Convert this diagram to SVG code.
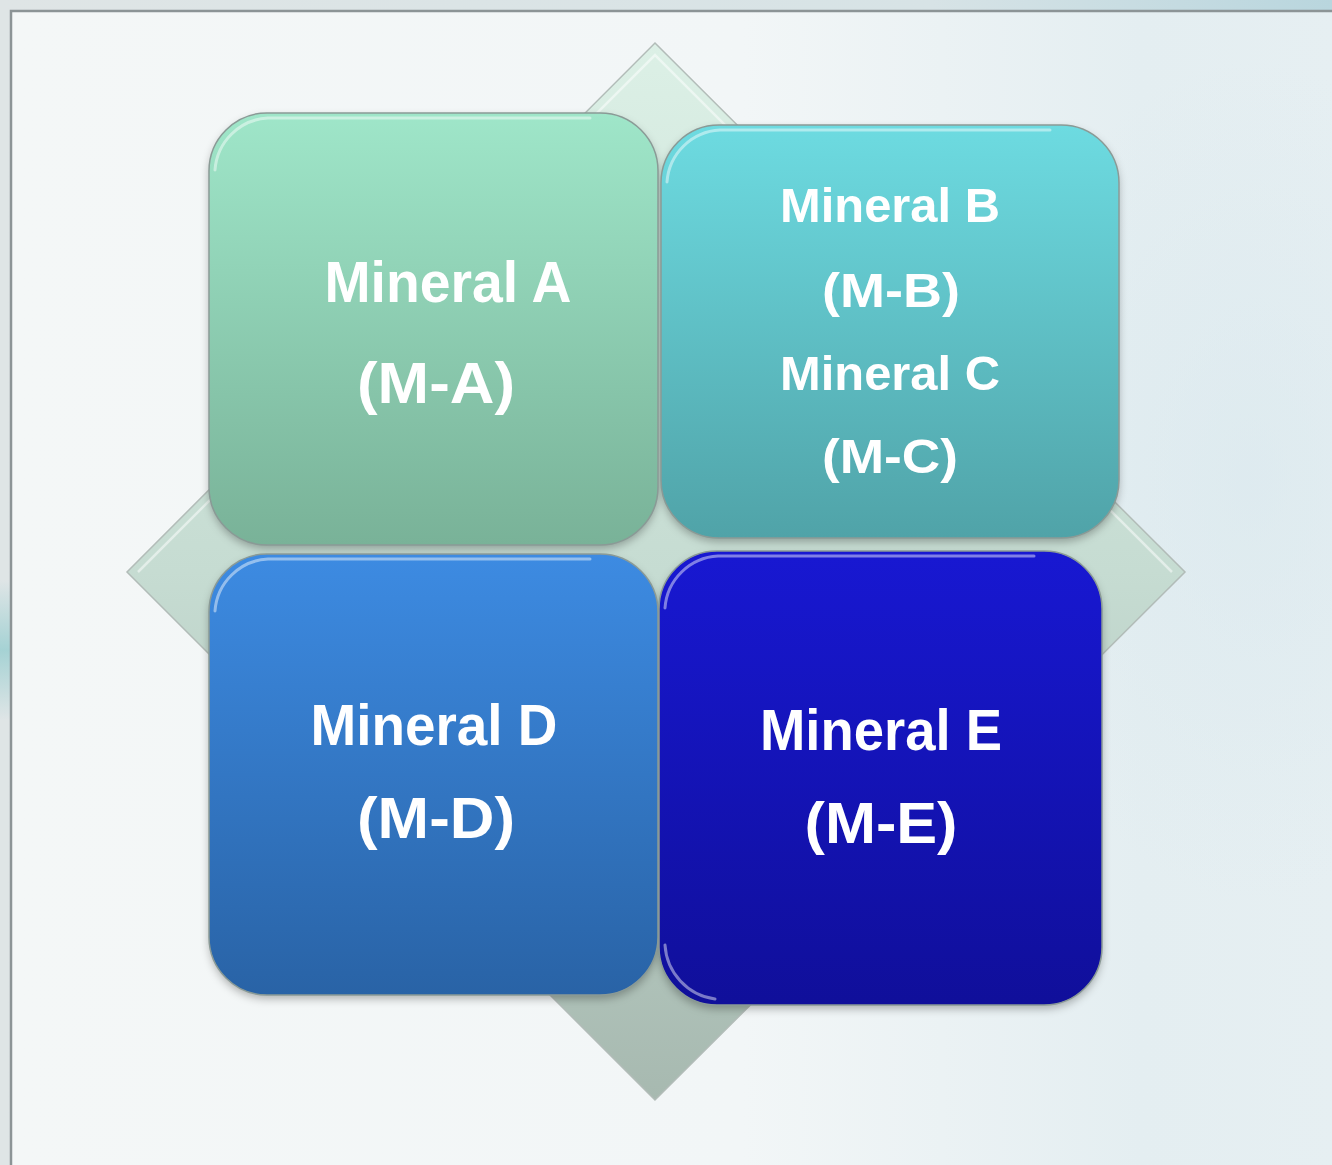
<svg xmlns="http://www.w3.org/2000/svg" width="1332" height="1165" viewBox="0 0 1332 1165">
<style>
.lbl{font-family:"Liberation Sans",Arial,sans-serif;font-weight:bold;fill:#ffffff;text-anchor:middle}
.big{font-size:57px}
.mid{font-size:49px}
.box{stroke:#8a9a96;stroke-width:1.5}
.gloss{fill:none;stroke:#ffffff;stroke-opacity:0.45;stroke-width:3;stroke-linecap:round}
.shd{fill:#000000;fill-opacity:0.28}
</style>
<defs>
<linearGradient id="bgOut" x1="0" y1="0" x2="1" y2="0">
<stop offset="0" stop-color="#dfe5e6"/><stop offset="0.7" stop-color="#d7e3e6"/><stop offset="1" stop-color="#b9d6de"/>
</linearGradient>
<linearGradient id="bgIn" x1="0" y1="0" x2="1" y2="0">
<stop offset="0" stop-color="#f4f7f7"/><stop offset="0.55" stop-color="#f2f6f7"/><stop offset="0.85" stop-color="#e4eef1"/><stop offset="1" stop-color="#e6eff2"/>
</linearGradient>
<linearGradient id="tealStreak" x1="0" y1="0" x2="0" y2="1">
<stop offset="0" stop-color="#9fd0d2" stop-opacity="0"/><stop offset="0.5" stop-color="#9fd0d2" stop-opacity="0.9"/><stop offset="1" stop-color="#9fd0d2" stop-opacity="0"/>
</linearGradient>
<radialGradient id="blueHaze" cx="0.5" cy="0.5" r="0.5">
<stop offset="0" stop-color="#d9e8ee" stop-opacity="0.6"/><stop offset="1" stop-color="#d9e8ee" stop-opacity="0"/>
</radialGradient>
<linearGradient id="gDiamond" x1="0" y1="0" x2="0" y2="1">
<stop offset="0" stop-color="#dcf0e6"/><stop offset="0.5" stop-color="#c6dcd2"/><stop offset="1" stop-color="#a7b9b0"/>
</linearGradient>
<linearGradient id="gA" x1="0" y1="0" x2="0" y2="1">
<stop offset="0" stop-color="#9fe6c9"/><stop offset="1" stop-color="#79b298"/>
</linearGradient>
<linearGradient id="gB" x1="0" y1="0" x2="0" y2="1">
<stop offset="0" stop-color="#6ddbe1"/><stop offset="1" stop-color="#50a3a8"/>
</linearGradient>
<linearGradient id="gD" x1="0" y1="0" x2="0" y2="1">
<stop offset="0" stop-color="#3d8be2"/><stop offset="1" stop-color="#2963a6"/>
</linearGradient>
<linearGradient id="gE" x1="0" y1="0" x2="0" y2="1">
<stop offset="0" stop-color="#1818d2"/><stop offset="1" stop-color="#100f9a"/>
</linearGradient>
<filter id="blur" filterUnits="userSpaceOnUse" x="150" y="80" width="1030" height="980">
<feGaussianBlur stdDeviation="4"/>
</filter>
</defs>

<g id="background">
<rect x="0" y="0" width="1332" height="1165" fill="url(#bgOut)"/>
<rect x="0" y="580" width="10" height="140" fill="url(#tealStreak)"/>
<rect x="11" y="11" width="1330" height="1160" fill="url(#bgIn)" stroke="#8c9496" stroke-width="2.5"/>
<ellipse cx="1250" cy="480" rx="260" ry="420" fill="url(#blueHaze)"/>
</g>

<g id="diamond">
<polygon points="655,43 1185,572 655,1100 127,572" fill="url(#gDiamond)" stroke="#b2bcb8" stroke-width="1.5"/>
<polyline points="138,572 655,55 1172,572" fill="none" stroke="#ffffff" stroke-opacity="0.5" stroke-width="2.5"/>
</g>

<g id="connectors"></g>

<g id="shadows" filter="url(#blur)">
<rect class="shd" x="209" y="117" width="449" height="432" rx="58"/>
<rect class="shd" x="661" y="129" width="458" height="413" rx="58"/>
<rect class="shd" x="209" y="558" width="449" height="441" rx="58"/>
<rect class="shd" x="659" y="555" width="443" height="454" rx="58"/>
</g>

<g id="node-a">
<rect class="box" x="209" y="113" width="449" height="432" rx="58" fill="url(#gA)"/>
<path class="gloss" d="M215,170 A56,56 0 0 1 268,118 L590,118"/>
<text class="lbl big" x="448" y="302" textLength="247" lengthAdjust="spacingAndGlyphs">Mineral A</text>
<text class="lbl big" x="436" y="403" textLength="158" lengthAdjust="spacingAndGlyphs">(M-A)</text>
</g>

<g id="node-b">
<rect class="box" x="661" y="125" width="458" height="413" rx="58" fill="url(#gB)"/>
<path class="gloss" d="M667,182 A56,56 0 0 1 720,130 L1050,130"/>
<text class="lbl mid" x="890" y="222" textLength="220" lengthAdjust="spacingAndGlyphs">Mineral B</text>
<text class="lbl mid" x="891" y="307" textLength="138" lengthAdjust="spacingAndGlyphs">(M-B)</text>
<text class="lbl mid" x="890" y="390" textLength="220" lengthAdjust="spacingAndGlyphs">Mineral C</text>
<text class="lbl mid" x="890" y="473" textLength="136" lengthAdjust="spacingAndGlyphs">(M-C)</text>
</g>

<g id="node-d">
<rect class="box" x="209" y="554" width="449" height="441" rx="58" fill="url(#gD)"/>
<path class="gloss" d="M215,611 A56,56 0 0 1 268,559 L590,559"/>
<text class="lbl big" x="434" y="745" textLength="247" lengthAdjust="spacingAndGlyphs">Mineral D</text>
<text class="lbl big" x="436" y="838" textLength="158" lengthAdjust="spacingAndGlyphs">(M-D)</text>
</g>

<g id="node-e">
<rect class="box" x="659" y="551" width="443" height="454" rx="58" fill="url(#gE)"/>
<path class="gloss" d="M665,608 A56,56 0 0 1 718,556 L1034,556"/>
<path class="gloss" d="M665,945 A58,58 0 0 0 715,999"/>
<text class="lbl big" x="881" y="750" textLength="242" lengthAdjust="spacingAndGlyphs">Mineral E</text>
<text class="lbl big" x="881" y="843" textLength="153" lengthAdjust="spacingAndGlyphs">(M-E)</text>
</g>
</svg>
